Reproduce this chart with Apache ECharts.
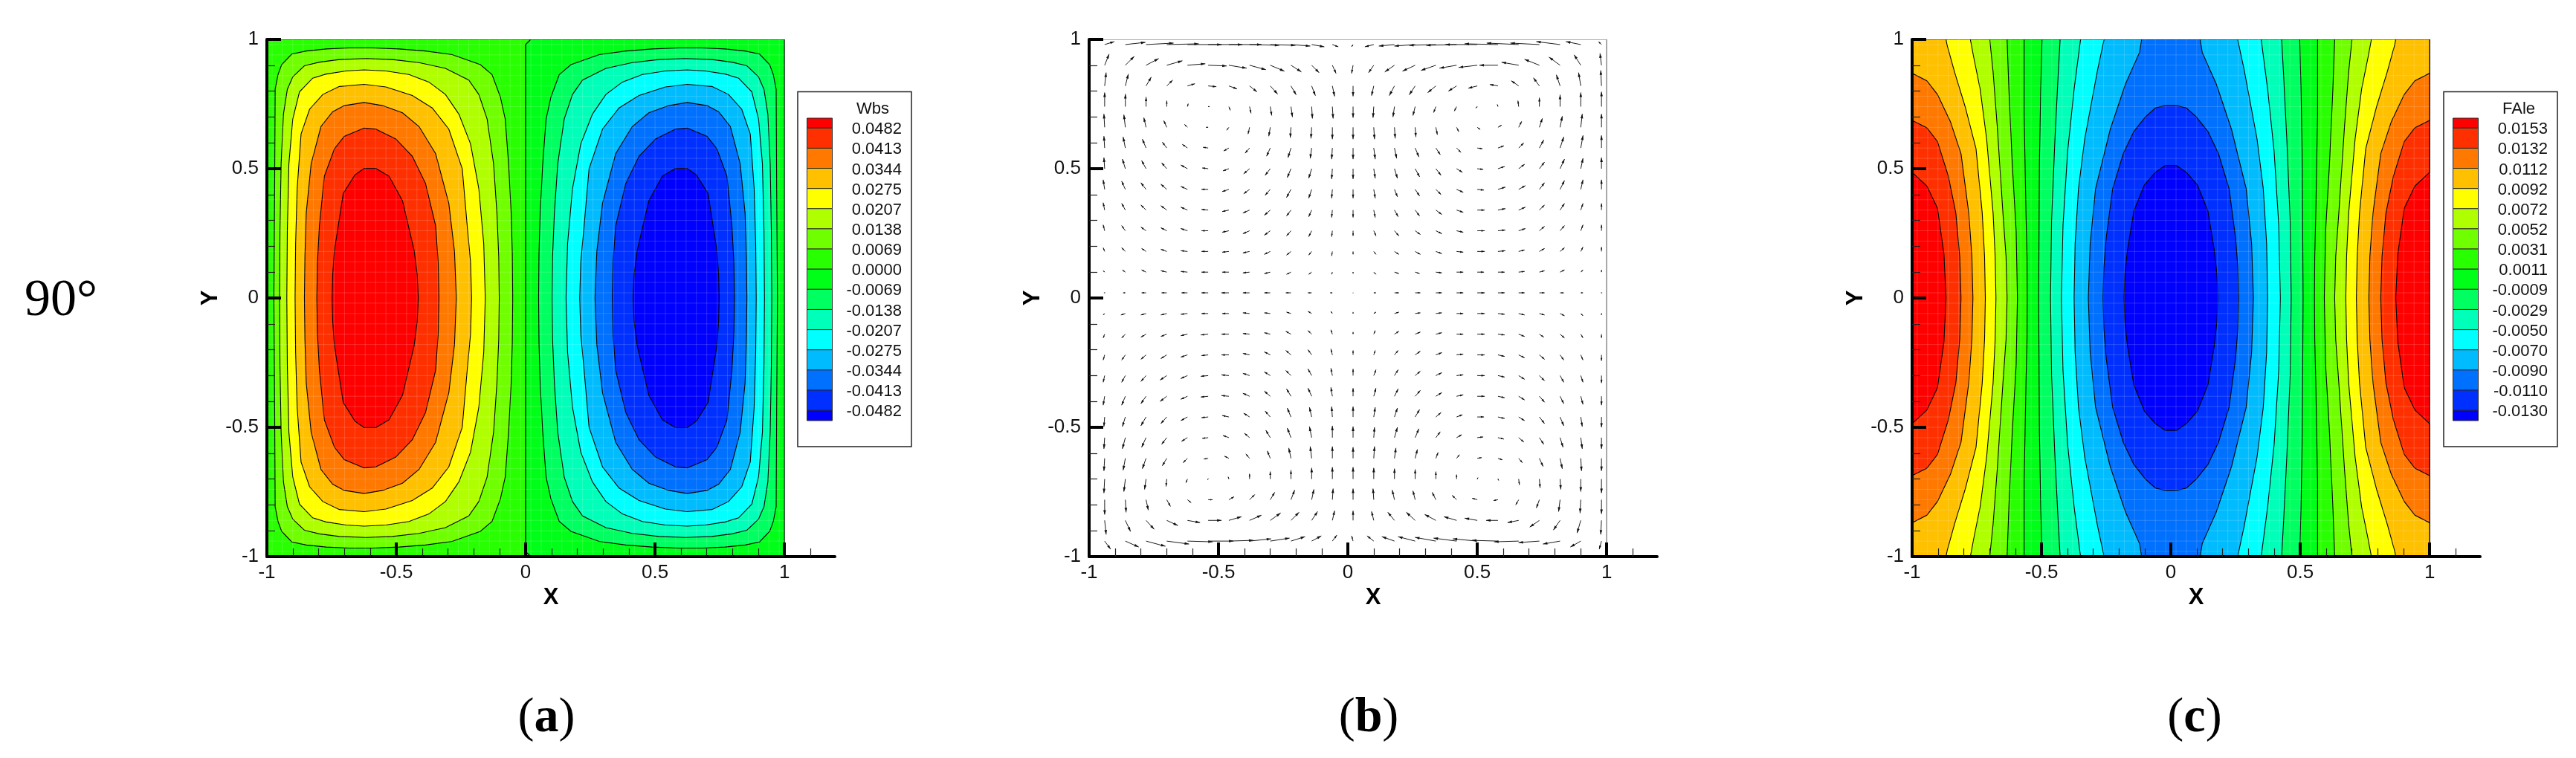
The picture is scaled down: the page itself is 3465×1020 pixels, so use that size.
<!DOCTYPE html>
<html>
<head>
<meta charset="utf-8">
<title>90 deg</title>
<style>
  html, body { margin: 0; padding: 0; background: #fff; }
  #chart { width: 3465px; height: 1020px; }
</style>
<script src="https://cdn.jsdelivr.net/npm/echarts@6/dist/echarts.min.js"></script>
</head>
<body>
<div id="chart"></div>
<script>
// legend bands, top to bottom
const bandColors = ['#ff0000', '#ff3000', '#ff7800', '#ffc000', '#ffff00', '#b0ff00', '#70ff00', '#28ff00',
  '#00ff18', '#00ff60', '#00ffb8', '#00ffff', '#00bcff', '#0070ff', '#0030ff', '#0000ff']
const wbsLevels = ['0.0482', '0.0413', '0.0344', '0.0275', '0.0207', '0.0138', '0.0069', '0.0000',
  '-0.0069', '-0.0138', '-0.0207', '-0.0275', '-0.0344', '-0.0413', '-0.0482']
const faleLevels = ['0.0153', '0.0132', '0.0112', '0.0092', '0.0072', '0.0052', '0.0031', '0.0011',
  '-0.0009', '-0.0029', '-0.0050', '-0.0070', '-0.0090', '-0.0110', '-0.0130']

const majorTicks = [-1, -0.5, 0, 0.5, 1]
const minorTicksX = [-0.9, -0.8, -0.7, -0.6, -0.4, -0.3, -0.2, -0.1, 0.1, 0.2, 0.3, 0.4, 0.6, 0.7, 0.8, 0.9, 1.1]
const minorTicksY = [-0.9, -0.8, -0.7, -0.6, -0.4, -0.3, -0.2, -0.1, 0.1, 0.2, 0.3, 0.4, 0.6, 0.7, 0.8, 0.9]
const meshTicks = [-0.98, -0.94, -0.9, -0.86, -0.82, -0.78, -0.74, -0.7, -0.66, -0.62, -0.58, -0.54, -0.5, -0.46, -0.42, -0.38, -0.34,
  -0.3, -0.26, -0.22, -0.18, -0.14, -0.1, -0.06, -0.02, 0.02, 0.06, 0.1, 0.14, 0.18, 0.22, 0.26, 0.3, 0.34, 0.38, 0.42, 0.46, 0.5,
  0.54, 0.58, 0.62, 0.66, 0.7, 0.74, 0.78, 0.82, 0.86, 0.9, 0.94, 0.98]

// panel a: contours of the left lobe, upper half, y=0 over the top back to y=0
const wbsC1 = [[-0.973, 0], [-0.970, 0.423], [-0.968, 0.807], [-0.957, 0.864], [-0.943, 0.902], [-0.904, 0.943], [-0.848, 0.955], [-0.771, 0.963], [-0.682, 0.967], [-0.592, 0.967], [-0.489, 0.963], [-0.387, 0.955], [-0.284, 0.941], [-0.175, 0.902], [-0.130, 0.864], [-0.098, 0.778], [-0.079, 0.692], [-0.066, 0.519], [-0.056, 0.328], [-0.0515, 0.17], [-0.050, 0]]
const wbsC2 = [[-0.951, 0], [-0.9495, 0.26], [-0.945, 0.519], [-0.936, 0.711], [-0.921, 0.807], [-0.900, 0.855], [-0.855, 0.898], [-0.797, 0.912], [-0.720, 0.922], [-0.617, 0.926], [-0.515, 0.922], [-0.412, 0.910], [-0.310, 0.888], [-0.220, 0.843], [-0.181, 0.787], [-0.149, 0.692], [-0.124, 0.519], [-0.111, 0.328], [-0.104, 0.16], [-0.102, 0]]
const wbsC3 = [[-0.923, 0], [-0.921, 0.26], [-0.915, 0.519], [-0.900, 0.692], [-0.874, 0.797], [-0.823, 0.850], [-0.771, 0.866], [-0.694, 0.878], [-0.624, 0.882], [-0.540, 0.878], [-0.451, 0.864], [-0.374, 0.835], [-0.310, 0.787], [-0.258, 0.711], [-0.213, 0.596], [-0.181, 0.423], [-0.162, 0.21], [-0.156, 0]]
const wbsC4 = [[-0.891, 0], [-0.889, 0.21], [-0.883, 0.423], [-0.868, 0.634], [-0.835, 0.730], [-0.784, 0.787], [-0.720, 0.818], [-0.624, 0.826], [-0.540, 0.816], [-0.438, 0.783], [-0.361, 0.735], [-0.297, 0.653], [-0.245, 0.500], [-0.226, 0.280], [-0.213, 0.14], [-0.209, 0]]
const wbsC5 = [[-0.855, 0], [-0.853, 0.16], [-0.848, 0.328], [-0.829, 0.519], [-0.791, 0.663], [-0.746, 0.720], [-0.701, 0.744], [-0.624, 0.756], [-0.553, 0.744], [-0.476, 0.716], [-0.412, 0.663], [-0.348, 0.558], [-0.297, 0.366], [-0.275, 0.18], [-0.268, 0]]
const wbsC6 = [[-0.807, 0], [-0.8045, 0.14], [-0.797, 0.280], [-0.778, 0.471], [-0.739, 0.577], [-0.701, 0.625], [-0.624, 0.657], [-0.579, 0.653], [-0.502, 0.615], [-0.438, 0.548], [-0.387, 0.443], [-0.348, 0.280], [-0.338, 0.14], [-0.335, 0]]
const wbsC7 = [[-0.748, 0], [-0.7458, 0.09], [-0.739, 0.184], [-0.705, 0.404], [-0.660, 0.476], [-0.624, 0.501], [-0.579, 0.501], [-0.528, 0.471], [-0.476, 0.376], [-0.431, 0.184], [-0.419, 0.09], [-0.415, 0]]
const wbsBaseLeft = [[-1, -1], [0.02, -1], [0, -0.98], [0, 0.98], [0.02, 1], [-1, 1]]
const wbsBaseRight = [[0.02, -1], [1, -1], [1, 1], [0.02, 1], [0, 0.98], [0, -0.98]]

// panel c: band boundaries on the left side, top down to y=0
const faleB1 = [[-1, 1], [-1, 0.486], [-0.943, 0.433], [-0.902, 0.347], [-0.877, 0.17], [-0.869, 0]]
const faleB2 = [[-1, 1], [-1, 0.687], [-0.943, 0.658], [-0.902, 0.605], [-0.860, 0.471], [-0.831, 0.328], [-0.816, 0.16], [-0.811, 0]]
const faleB3 = [[-1, 1], [-1, 0.869], [-0.943, 0.840], [-0.902, 0.787], [-0.852, 0.682], [-0.811, 0.558], [-0.781, 0.328], [-0.769, 0.16], [-0.765, 0]]
const faleB4 = [[-0.869, 1], [-0.865, 0.979], [-0.836, 0.874], [-0.795, 0.740], [-0.753, 0.577], [-0.729, 0.328], [-0.720, 0.16], [-0.717, 0]]
const faleB5 = [[-0.775, 1], [-0.762, 0.931], [-0.737, 0.807], [-0.712, 0.615], [-0.687, 0.328], [-0.679, 0.16], [-0.676, 0]]
const faleB6 = [[-0.700, 1], [-0.687, 0.874], [-0.671, 0.663], [-0.649, 0.328], [-0.637, 0.16], [-0.633, 0]]
const faleB7 = [[-0.633, 1], [-0.626, 0.807], [-0.613, 0.519], [-0.598, 0.26], [-0.593, 0]]
const faleB8 = [[-0.567, 1], [-0.567, 0.711], [-0.560, 0.328], [-0.556, 0.16], [-0.555, 0]]
const faleB9 = [[-0.498, 1], [-0.503, 0.807], [-0.508, 0.519], [-0.511, 0]]
const faleB10 = [[-0.428, 1], [-0.435, 0.874], [-0.448, 0.615], [-0.461, 0.3], [-0.465, 0]]
const faleB11 = [[-0.349, 1], [-0.374, 0.807], [-0.399, 0.567], [-0.417, 0.28], [-0.423, 0]]
const faleB12 = [[-0.258, 1], [-0.283, 0.883], [-0.333, 0.615], [-0.357, 0.423], [-0.370, 0.21], [-0.374, 0]]
const faleB13 = [[-0.113, 1], [-0.121, 0.950], [-0.176, 0.826], [-0.234, 0.653], [-0.291, 0.423], [-0.312, 0.21], [-0.319, 0]]
const faleB14 = [[-0.022, 0.744], [-0.060, 0.735], [-0.098, 0.701], [-0.143, 0.644], [-0.184, 0.558], [-0.225, 0.423], [-0.250, 0.232], [-0.259, 0.116], [-0.262, 0]]
const faleB15 = [[-0.022, 0.512], [-0.060, 0.486], [-0.102, 0.438], [-0.143, 0.337], [-0.168, 0.184], [-0.178, 0.09], [-0.181, 0]]
const frameBox = [[-1, -1], [1, -1], [1, 1], [-1, 1]]

// panel b: vector tails and components, rows top to bottom (arrow length in px of the plot)
const vectorX = [-0.94, -0.86, -0.78, -0.70, -0.62, -0.54, -0.46, -0.38, -0.30, -0.22, -0.14, -0.06, 0.02, 0.10, 0.18, 0.26, 0.34, 0.42, 0.50, 0.58, 0.66, 0.74, 0.82, 0.90, 0.98]
const vectorY = [0.98, 0.90, 0.82, 0.74, 0.66, 0.58, 0.50, 0.42, 0.34, 0.26, 0.18, 0.10, 0.02, -0.06, -0.14, -0.22, -0.30, -0.38, -0.46, -0.54, -0.62, -0.70, -0.78, -0.86, -0.94]
const vectorU = [
  [13, 27, 37, 43, 46, 46, 44, 40, 34, 26, 17, 8, -2, -12, -21, -28, -36, -41, -43, -45, -43, -39, -32, -20, -4],
  [6, 12, 17, 21, 24, 25, 24, 22, 19, 14, 10, 5, -2, -7, -13, -17, -20, -23, -25, -25, -23, -20, -15, -9, -2],
  [2, 4, 7, 8, 10, 11, 11, 10, 10, 7, 5, 3, 0, -3, -7, -8, -11, -11, -12, -11, -10, -8, -5, -3, -1],
  [0, 0, 0, 0, 1, 2, 2, 2, 2, 2, 1, 1, 0, -1, -2, -3, -3, -3, -2, -1, -1, 0, 0, 0, 0],
  [-1, -2, -3, -4, -4, -3, -3, -2, -2, -1, -1, 0, 0, 1, 1, 1, 2, 3, 4, 5, 4, 4, 3, 2, 0],
  [-1, -3, -5, -6, -7, -7, -7, -6, -5, -4, -2, -1, 0, 2, 3, 5, 6, 6, 7, 8, 7, 6, 5, 3, 0],
  [-1, -4, -6, -7, -9, -8, -8, -8, -7, -5, -4, -1, 0, 2, 4, 6, 7, 8, 8, 9, 8, 7, 6, 3, 0],
  [-2, -5, -7, -8, -9, -9, -9, -8, -7, -6, -4, -1, 0, 2, 4, 6, 7, 9, 9, 10, 9, 7, 6, 3, 0],
  [-2, -5, -7, -8, -9, -9, -9, -9, -8, -6, -4, -1, 0, 2, 5, 6, 8, 9, 10, 10, 9, 7, 6, 3, 0],
  [-2, -5, -7, -8, -9, -9, -9, -9, -8, -6, -4, -1, 0, 3, 6, 7, 8, 9, 10, 10, 9, 7, 6, 3, 0],
  [-2, -5, -6, -8, -9, -9, -9, -9, -8, -6, -4, -1, 0, 3, 6, 7, 8, 9, 10, 10, 8, 7, 6, 3, 0],
  [-2, -4, -6, -8, -9, -9, -9, -9, -8, -6, -4, -1, 0, 3, 6, 6, 8, 9, 9, 9, 8, 7, 6, 3, 0],
  [-1, -3, -6, -7, -8, -9, -10, -9, -8, -7, -5, -3, 0, 3, 6, 7, 8, 9, 10, 9, 8, 7, 5, 3, 1],
  [-2, -6, -7, -8, -9, -9, -9, -9, -8, -6, -5, -2, 0, 3, 6, 7, 8, 9, 10, 9, 8, 7, 6, 3, 0],
  [-2, -5, -7, -8, -9, -10, -10, -9, -8, -7, -5, -2, 0, 2, 6, 7, 8, 9, 10, 9, 8, 6, 6, 3, 0],
  [-2, -5, -7, -8, -9, -9, -10, -9, -8, -7, -5, -2, 0, 2, 5, 7, 8, 9, 10, 9, 8, 7, 5, 3, 0],
  [-2, -5, -7, -9, -9, -10, -10, -9, -8, -7, -5, -2, 0, 3, 5, 7, 8, 9, 10, 9, 8, 7, 5, 3, 0],
  [-2, -5, -7, -9, -9, -10, -10, -9, -8, -6, -5, -2, 0, 3, 5, 7, 8, 9, 10, 9, 8, 7, 5, 3, 0],
  [-1, -4, -7, -8, -9, -9, -9, -8, -7, -5, -3, -1, 0, 2, 4, 6, 7, 8, 9, 9, 8, 7, 5, 2, 0],
  [-1, -4, -6, -7, -8, -8, -8, -7, -6, -5, -3, 0, 0, 1, 4, 5, 6, 7, 8, 8, 7, 6, 4, 2, 0],
  [-1, -3, -5, -6, -6, -6, -6, -5, -4, -3, -2, 0, 0, 1, 2, 3, 3, 4, 6, 6, 5, 5, 3, 1, 0],
  [-1, -2, -2, -1, -2, -1, -1, 0, 0, 0, 0, 0, 0, 0, 0, 0, 0, 0, 1, 1, 1, 1, 1, 0, 0],
  [0, 1, 3, 5, 5, 6, 7, 7, 6, 5, 3, 1, 0, -1, -3, -3, -5, -6, -7, -6, -4, -4, -2, -1, 0],
  [2, 7, 11, 15, 17, 18, 17, 16, 14, 11, 8, 3, 0, -3, -9, -12, -15, -17, -17, -16, -15, -13, -9, -5, -1],
  [8, 18, 26, 30, 34, 34, 33, 29, 26, 19, 13, 6, -2, -9, -17, -23, -28, -31, -33, -35, -33, -28, -23, -14, -3]
]
const vectorV = [
  [4, 3, 2, 1, 0, 0, 0, -1, -1, -2, -3, -3, -3, -3, -2, -2, -1, -1, 0, 1, 2, 2, 4, 4, 4],
  [15, 12, 9, 6, 2, -1, -4, -6, -8, -9, -10, -11, -11, -10, -9, -8, -7, -4, -3, 0, 4, 8, 11, 14, 16],
  [18, 16, 12, 8, 3, -1, -4, -8, -11, -12, -13, -14, -14, -13, -13, -12, -9, -7, -3, 2, 7, 11, 15, 18, 21],
  [19, 17, 13, 8, 4, 0, -5, -9, -12, -14, -16, -16, -15, -15, -14, -12, -8, -6, -2, 3, 8, 12, 16, 19, 20],
  [18, 17, 13, 9, 4, 0, -4, -9, -12, -14, -15, -16, -16, -16, -15, -13, -10, -6, -3, 3, 8, 12, 15, 18, 18],
  [16, 15, 12, 8, 5, 1, -4, -7, -11, -13, -14, -15, -15, -15, -14, -12, -9, -6, -1, 3, 7, 11, 15, 17, 17],
  [15, 13, 11, 8, 5, 1, -3, -7, -9, -12, -13, -14, -14, -13, -13, -11, -9, -5, -1, 3, 6, 9, 13, 14, 15],
  [13, 11, 9, 7, 4, 0, -3, -6, -8, -11, -12, -12, -12, -12, -10, -9, -7, -4, -1, 3, 5, 9, 12, 13, 13],
  [10, 9, 7, 6, 4, 1, -2, -4, -7, -8, -9, -10, -10, -10, -9, -8, -6, -3, 0, 2, 4, 7, 9, 9, 9],
  [8, 7, 5, 4, 3, 0, -2, -4, -6, -7, -8, -8, -7, -7, -7, -5, -4, -2, 0, 1, 3, 6, 7, 8, 8],
  [5, 5, 4, 3, 1, 0, -1, -2, -4, -5, -5, -6, -4, -4, -4, -4, -3, -1, 0, 1, 2, 4, 5, 6, 6],
  [2, 3, 3, 2, 1, 0, 0, -1, -2, -3, -3, -3, -2, -3, -2, -2, -1, 0, 0, 0, 1, 2, 3, 3, 3],
  [0, 0, 0, 0, 0, 0, 0, 0, 0, 0, 0, 0, 0, 0, 0, 0, 0, 0, 0, 0, 0, 0, 0, 0, 0],
  [-2, -2, -2, -2, -1, 0, 0, 1, 1, 2, 3, 3, 2, 2, 2, 1, 1, 0, 0, -1, -2, -2, -3, -3, -2],
  [-5, -5, -4, -3, -2, -1, 0, 1, 2, 4, 5, 6, 3, 5, 4, 3, 2, 0, 0, -1, -3, -4, -5, -5, -5],
  [-7, -7, -6, -5, -3, -1, 0, 2, 4, 6, 7, 8, 6, 6, 6, 5, 3, 1, 0, -2, -4, -6, -7, -7, -8],
  [-9, -9, -8, -6, -4, -1, 1, 3, 5, 7, 9, 10, 9, 8, 8, 6, 4, 1, 0, -2, -5, -7, -9, -9, -10],
  [-12, -12, -10, -7, -4, -1, 1, 4, 7, 10, 11, 12, 11, 11, 10, 8, 5, 2, 0, -2, -5, -8, -10, -11, -12],
  [-13, -13, -12, -9, -5, -1, 2, 5, 8, 12, 13, 14, 14, 13, 12, 10, 6, 3, 0, -2, -5, -9, -12, -13, -14],
  [-15, -15, -13, -9, -5, -1, 3, 6, 10, 13, 15, 16, 15, 14, 14, 12, 8, 4, 1, -2, -6, -9, -13, -15, -15],
  [-17, -16, -14, -10, -6, -1, 3, 6, 10, 14, 16, 16, 15, 16, 14, 12, 8, 5, 1, -2, -6, -11, -14, -17, -17],
  [-19, -17, -14, -10, -5, -1, 3, 7, 10, 12, 15, 16, 16, 15, 14, 13, 10, 6, 2, -2, -8, -12, -14, -17, -19],
  [-20, -17, -14, -9, -4, 0, 4, 7, 10, 13, 14, 15, 15, 15, 13, 12, 10, 6, 2, -1, -7, -11, -16, -18, -19],
  [-19, -15, -12, -7, -3, 0, 5, 7, 10, 11, 12, 13, 13, 12, 11, 11, 8, 5, 3, 0, -3, -9, -13, -17, -19],
  [-11, -8, -7, -4, -1, 0, 1, 3, 4, 6, 7, 8, 7, 7, 6, 6, 5, 4, 3, 1, -1, -2, -4, -8, -11]
]

const vectorPx = 1 / 348 // data units per px of arrow length

// the upper half reflected onto the lower half
const closeLobe = (half) => half.concat(half.slice(1, -1).map(p => [p[0], -p[1]]).reverse())
const reflectX = (pts) => pts.map(p => [-p[0], p[1]])
const closeBoundary = (half) => {
  const lower = half.slice(0, -1).map(p => [p[0], -p[1]]).reverse()
  const left = half.concat(lower)
  return left.concat(reflectX(left).reverse())
}

const lobeCurves = [wbsC1, wbsC2, wbsC3, wbsC4, wbsC5, wbsC6, wbsC7]
const wbsShapes = [
  { points: wbsBaseLeft, color: bandColors[7] },
  { points: wbsBaseRight, color: bandColors[8] }
]
lobeCurves.forEach((c, i) => {
  const closed = closeLobe(c)
  wbsShapes.push({ points: closed, color: bandColors[6 - i] })
  wbsShapes.push({ points: reflectX(closed), color: bandColors[9 + i] })
})

const faleCurves = [faleB1, faleB2, faleB3, faleB4, faleB5, faleB6, faleB7, faleB8, faleB9, faleB10, faleB11, faleB12, faleB13, faleB14, faleB15]
const faleShapes = [{ points: frameBox, color: bandColors[0] }]
faleCurves.forEach((c, i) => faleShapes.push({ points: closeBoundary(c), color: bandColors[i + 1] }))

const vectorData = []
vectorY.forEach((y, r) => vectorX.forEach((x, c) => vectorData.push([x, y, vectorU[r][c], vectorV[r][c]])))

const renderShape = (shapes) => (params, api) => {
  const s = shapes[params.dataIndex]
  return {
    type: 'polygon',
    shape: { points: s.points.map(p => api.coord(p)) },
    style: { fill: s.color, stroke: '#000', lineWidth: 1.1 }
  }
}

const renderMesh = (params, api) => {
  const t = api.value(2)
  const a = api.coord([t, -1]), b = api.coord([t, 1])
  const c = api.coord([-1, t]), d = api.coord([1, t])
  const style = { stroke: 'rgba(255,255,255,0.16)', lineWidth: 1 }
  return {
    type: 'group',
    children: [
      { type: 'line', shape: { x1: a[0], y1: a[1], x2: b[0], y2: b[1] }, style },
      { type: 'line', shape: { x1: c[0], y1: c[1], x2: d[0], y2: d[1] }, style }
    ]
  }
}

const renderFrame = (params, api) => ({
  type: 'polygon',
  shape: { points: frameBox.map(p => api.coord(p)) },
  style: { fill: 'none', stroke: '#8a8a8a', lineWidth: 1.5 }
})

const renderArrow = (params, api) => {
  const x = api.value(0), y = api.value(1), u = api.value(2), v = api.value(3)
  const tail = api.coord([x, y])
  const tip = api.coord([x + u * vectorPx, y + v * vectorPx])
  const len = Math.hypot(u, v)
  if (len < 0.5) return { type: 'circle', shape: { cx: tail[0], cy: tail[1], r: 0.6 }, style: { fill: '#333' } }
  const ux = (tip[0] - tail[0]) / len, uy = (tip[1] - tail[1]) / len
  const hl = Math.min(6, 1.5 + len * 0.3), hw = hl * 0.3
  const bx = tip[0] - ux * hl, by = tip[1] - uy * hl
  return {
    type: 'group',
    children: [
      { type: 'line', shape: { x1: tail[0], y1: tail[1], x2: tip[0], y2: tip[1] }, style: { stroke: '#1c1c1c', lineWidth: 1 } },
      { type: 'polygon', shape: { points: [tip, [bx - uy * hw, by + ux * hw], [bx + uy * hw, by - ux * hw]] }, style: { fill: '#111' } }
    ]
  }
}

const sansFont = '"Liberation Sans", Arial, sans-serif'
const serifFont = '"Liberation Serif", "Times New Roman", serif'

const panels = [
  { left: 359 },
  { left: 1465 },
  { left: 2572 }
]

const grids = panels.map(p => ({ left: p.left, top: 53, width: 764, height: 696 }))

const xAxes = []
const yAxes = []
panels.forEach((p, i) => {
  xAxes.push({
    type: 'value', gridIndex: i, position: 'bottom', min: -1, max: 1.195, interval: 0.5, z: 5,
    name: 'X', nameLocation: 'middle', nameGap: 28,
    nameTextStyle: { fontFamily: sansFont, fontWeight: 'bold', fontSize: 31, color: '#000' },
    axisLine: { show: true, onZero: false, lineStyle: { color: '#000', width: 4 } },
    axisTick: { show: true, inside: true, length: 19, customValues: majorTicks, lineStyle: { color: '#000', width: 4 } },
    axisLabel: { show: true, customValues: majorTicks, margin: 9, fontFamily: sansFont, fontSize: 26, color: '#111' },
    splitLine: { show: false }
  })
  xAxes.push({
    type: 'value', gridIndex: i, position: 'bottom', min: -1, max: 1.195, interval: 0.5, z: 5,
    axisLine: { show: false, onZero: false },
    axisTick: { show: true, inside: true, length: 11, customValues: minorTicksX, lineStyle: { color: '#222', width: 1.2 } },
    axisLabel: { show: false },
    splitLine: { show: false }
  })
  yAxes.push({
    type: 'value', gridIndex: i, position: 'left', min: -1, max: 1, interval: 0.5, z: 5,
    name: 'Y', nameLocation: 'middle', nameGap: 48, nameRotate: 90,
    nameTextStyle: { fontFamily: sansFont, fontWeight: 'bold', fontSize: 31, color: '#000' },
    axisLine: { show: true, onZero: false, lineStyle: { color: '#000', width: 4 } },
    axisTick: { show: true, inside: true, length: 19, customValues: majorTicks, lineStyle: { color: '#000', width: 4 } },
    axisLabel: { show: true, customValues: majorTicks, margin: 11, fontFamily: sansFont, fontSize: 26, color: '#111' },
    splitLine: { show: false }
  })
  yAxes.push({
    type: 'value', gridIndex: i, position: 'left', min: -1, max: 1, interval: 0.5, z: 5,
    axisLine: { show: false, onZero: false },
    axisTick: { show: true, inside: true, length: 11, customValues: minorTicksY, lineStyle: { color: '#222', width: 1.2 } },
    axisLabel: { show: false },
    splitLine: { show: false }
  })
})

const shapeSeries = (shapes, i) => ({
  type: 'custom', coordinateSystem: 'cartesian2d', xAxisIndex: i * 2, yAxisIndex: i * 2, clip: true,
  renderItem: renderShape(shapes), silent: true, animation: false,
  data: shapes.map(() => [0, 0])
})
const meshSeries = (i) => ({
  type: 'custom', coordinateSystem: 'cartesian2d', xAxisIndex: i * 2, yAxisIndex: i * 2, clip: true,
  renderItem: renderMesh, silent: true, animation: false,
  data: meshTicks.map(t => [0, 0, t])
})

const buildLegend = (boxLeft, title, titleX, levels) => {
  const out = []
  const top = 123.5, bottom = 601, width = 153
  const swLeft = boxLeft + 12.5, swWidth = 34
  const firstLine = 172.3, step = 27.13, swTop = 159, swBottom = 566
  const labelRight = boxLeft + 140
  out.push({ type: 'rect', shape: { x: boxLeft, y: top, width, height: bottom - top }, style: { fill: '#fff', stroke: '#222', lineWidth: 1.5 }, z: 10 })
  bandColors.forEach((color, i) => {
    const y0 = i === 0 ? swTop : firstLine + (i - 1) * step
    const y1 = i === bandColors.length - 1 ? swBottom : firstLine + i * step
    out.push({ type: 'rect', shape: { x: swLeft, y: y0, width: swWidth, height: y1 - y0 }, style: { fill: color, stroke: '#2a2a2a', lineWidth: 1 }, z: 11 })
  })
  levels.forEach((label, i) => {
    out.push({ type: 'text', x: labelRight, y: firstLine + i * step + 2, z: 11, style: { text: label, fontFamily: sansFont, fontSize: 22, fill: '#111', align: 'right', verticalAlign: 'middle' } })
  })
  out.push({ type: 'text', x: titleX, y: 147, z: 11, style: { text: title, fontFamily: sansFont, fontSize: 22, fill: '#111', align: 'center', verticalAlign: 'middle' } })
  return out
}

const panelLabel = (x, letter) => ({
  type: 'text', x, y: 967, z: 11,
  style: {
    text: '{p|(}{b|' + letter + '}{p|)}', align: 'center', verticalAlign: 'middle',
    rich: {
      p: { fontFamily: serifFont, fontSize: 66, fill: '#000' },
      b: { fontFamily: serifFont, fontSize: 66, fontWeight: 'bold', fill: '#000' }
    }
  }
})

const chart = echarts.init(document.getElementById('chart'), null, { renderer: 'canvas' })
chart.setOption({
  animation: false,
  backgroundColor: '#fff',
  grid: grids,
  xAxis: xAxes,
  yAxis: yAxes,
  series: [
    shapeSeries(wbsShapes, 0),
    meshSeries(0),
    {
      type: 'custom', coordinateSystem: 'cartesian2d', xAxisIndex: 2, yAxisIndex: 2, clip: true,
      renderItem: renderFrame, silent: true, animation: false, data: [[0, 0]]
    },
    {
      type: 'custom', coordinateSystem: 'cartesian2d', xAxisIndex: 2, yAxisIndex: 2, clip: false,
      renderItem: renderArrow, silent: true, animation: false, data: vectorData
    },
    shapeSeries(faleShapes, 2),
    meshSeries(2)
  ],
  graphic: [
    ...buildLegend(1073, 'Wbs', 1174, wbsLevels),
    ...buildLegend(3287, 'FAle', 3388, faleLevels),
    { type: 'text', x: 33, y: 406, z: 11, style: { text: '90°', fontFamily: serifFont, fontSize: 70, fill: '#000', align: 'left', verticalAlign: 'middle' } },
    panelLabel(735, 'a'),
    panelLabel(1841, 'b'),
    panelLabel(2952, 'c')
  ]
})
</script>
</body>
</html>
